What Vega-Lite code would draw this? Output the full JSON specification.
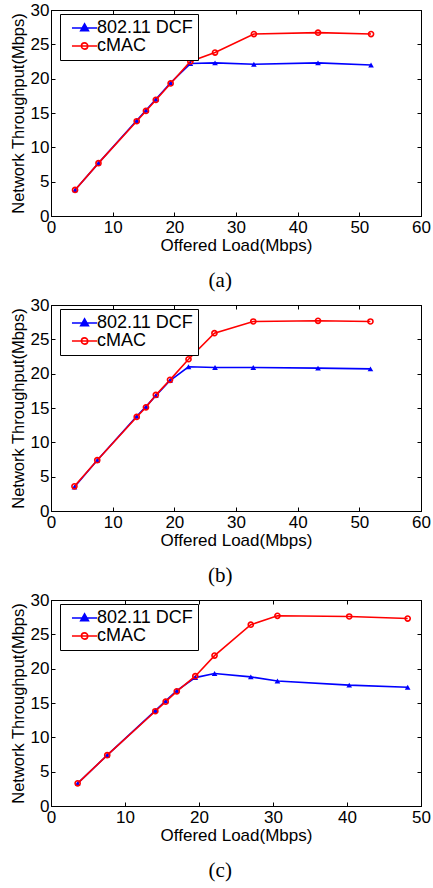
{
  "$schema": "https://vega.github.io/schema/vega-lite/v6.json",
  "padding": {"left": 9, "top": 0, "right": 2, "bottom": 0},
  "background": "white",
  "spacing": 3,
  "config": {
    "font": "Liberation Sans",
    "view": {"stroke": "black", "strokeWidth": 1},
    "axis": {
      "grid": false,
      "domainColor": "black",
      "tickColor": "black",
      "labelColor": "black",
      "titleColor": "black",
      "labelFontSize": 17,
      "titleFontSize": 17,
      "titleFontWeight": "normal",
      "labelFlush": false,
      "labelOverlap": false
    },
    "legend": {
      "title": null, "orient": "none", "legendX": 9, "legendY": 4, "strokeColor": "black", "fillColor": "white", "padding": 5,
      "labelFontSize": 18, "labelColor": "black", "symbolSize": 196, "symbolStrokeWidth": 1.6, "rowPadding": -1, "labelOffset": 14, "labelLimit": 0
    }
  },
  "datasets": {
    "a": [
      {"load": 3.9, "tput": 3.8, "scheme": "802.11 DCF"},
      {"load": 7.7, "tput": 7.7, "scheme": "802.11 DCF"},
      {"load": 13.9, "tput": 13.9, "scheme": "802.11 DCF"},
      {"load": 15.4, "tput": 15.4, "scheme": "802.11 DCF"},
      {"load": 17.0, "tput": 17.0, "scheme": "802.11 DCF"},
      {"load": 19.4, "tput": 19.4, "scheme": "802.11 DCF"},
      {"load": 22.6, "tput": 22.2, "scheme": "802.11 DCF"},
      {"load": 26.6, "tput": 22.3, "scheme": "802.11 DCF"},
      {"load": 32.9, "tput": 22.1, "scheme": "802.11 DCF"},
      {"load": 43.3, "tput": 22.3, "scheme": "802.11 DCF"},
      {"load": 51.9, "tput": 22.0, "scheme": "802.11 DCF"},
      {"load": 3.9, "tput": 3.8, "scheme": "cMAC"},
      {"load": 7.7, "tput": 7.7, "scheme": "cMAC"},
      {"load": 13.9, "tput": 13.8, "scheme": "cMAC"},
      {"load": 15.4, "tput": 15.3, "scheme": "cMAC"},
      {"load": 17.0, "tput": 16.9, "scheme": "cMAC"},
      {"load": 19.4, "tput": 19.3, "scheme": "cMAC"},
      {"load": 22.6, "tput": 22.5, "scheme": "cMAC"},
      {"load": 26.6, "tput": 23.8, "scheme": "cMAC"},
      {"load": 32.9, "tput": 26.5, "scheme": "cMAC"},
      {"load": 43.3, "tput": 26.7, "scheme": "cMAC"},
      {"load": 51.9, "tput": 26.5, "scheme": "cMAC"}
    ],
    "b": [
      {"load": 3.8, "tput": 3.5, "scheme": "802.11 DCF"},
      {"load": 7.5, "tput": 7.4, "scheme": "802.11 DCF"},
      {"load": 13.9, "tput": 13.8, "scheme": "802.11 DCF"},
      {"load": 15.4, "tput": 15.2, "scheme": "802.11 DCF"},
      {"load": 17.0, "tput": 16.8, "scheme": "802.11 DCF"},
      {"load": 19.3, "tput": 19.0, "scheme": "802.11 DCF"},
      {"load": 22.3, "tput": 21.0, "scheme": "802.11 DCF"},
      {"load": 26.6, "tput": 20.9, "scheme": "802.11 DCF"},
      {"load": 32.8, "tput": 20.9, "scheme": "802.11 DCF"},
      {"load": 43.3, "tput": 20.8, "scheme": "802.11 DCF"},
      {"load": 51.8, "tput": 20.7, "scheme": "802.11 DCF"},
      {"load": 3.8, "tput": 3.6, "scheme": "cMAC"},
      {"load": 7.5, "tput": 7.4, "scheme": "cMAC"},
      {"load": 13.9, "tput": 13.7, "scheme": "cMAC"},
      {"load": 15.4, "tput": 15.1, "scheme": "cMAC"},
      {"load": 17.0, "tput": 16.9, "scheme": "cMAC"},
      {"load": 19.3, "tput": 19.1, "scheme": "cMAC"},
      {"load": 22.3, "tput": 22.1, "scheme": "cMAC"},
      {"load": 26.5, "tput": 25.9, "scheme": "cMAC"},
      {"load": 32.8, "tput": 27.6, "scheme": "cMAC"},
      {"load": 43.3, "tput": 27.7, "scheme": "cMAC"},
      {"load": 51.8, "tput": 27.6, "scheme": "cMAC"}
    ],
    "c": [
      {"load": 3.6, "tput": 3.3, "scheme": "802.11 DCF"},
      {"load": 7.6, "tput": 7.4, "scheme": "802.11 DCF"},
      {"load": 14.1, "tput": 13.9, "scheme": "802.11 DCF"},
      {"load": 15.5, "tput": 15.3, "scheme": "802.11 DCF"},
      {"load": 17.0, "tput": 16.8, "scheme": "802.11 DCF"},
      {"load": 19.5, "tput": 18.7, "scheme": "802.11 DCF"},
      {"load": 22.1, "tput": 19.3, "scheme": "802.11 DCF"},
      {"load": 27.0, "tput": 18.8, "scheme": "802.11 DCF"},
      {"load": 30.6, "tput": 18.2, "scheme": "802.11 DCF"},
      {"load": 40.3, "tput": 17.6, "scheme": "802.11 DCF"},
      {"load": 48.2, "tput": 17.3, "scheme": "802.11 DCF"},
      {"load": 3.6, "tput": 3.3, "scheme": "cMAC"},
      {"load": 7.6, "tput": 7.4, "scheme": "cMAC"},
      {"load": 14.1, "tput": 13.8, "scheme": "cMAC"},
      {"load": 15.5, "tput": 15.2, "scheme": "cMAC"},
      {"load": 17.0, "tput": 16.7, "scheme": "cMAC"},
      {"load": 19.5, "tput": 18.9, "scheme": "cMAC"},
      {"load": 22.1, "tput": 21.9, "scheme": "cMAC"},
      {"load": 27.0, "tput": 26.4, "scheme": "cMAC"},
      {"load": 30.6, "tput": 27.7, "scheme": "cMAC"},
      {"load": 40.3, "tput": 27.6, "scheme": "cMAC"},
      {"load": 48.2, "tput": 27.3, "scheme": "cMAC"}
    ]
  },
  "resolve": {
    "scale": {"color": "independent"},
    "legend": {"color": "independent"}
  },
  "vconcat": [
    {
      "width": 370, "height": 206,
      "data": {"name": "a"},
      "title": {"text": "(a)", "orient": "bottom", "font": "Liberation Serif", "fontSize": 21, "fontWeight": "normal", "color": "black", "anchor": "middle", "frame": "bounds", "offset": 17},
      "resolve": {"axis": {"x": "independent", "y": "independent"}},
      "layer": [
        {
          "mark": {"type": "line", "strokeWidth": 1.6},
          "encoding": {
            "x": {"field": "load", "type": "quantitative", "scale": {"domain": [0, 60], "nice": false},
                  "axis": {"orient": "bottom", "values": [0, 10, 20, 30, 40, 50, 60], "tickSize": -4, "labelPadding": 7, "title": "Offered Load(Mbps)", "titlePadding": 2}},
            "y": {"field": "tput", "type": "quantitative", "scale": {"domain": [0, 30], "nice": false},
                  "axis": {"orient": "left", "values": [0, 5, 10, 15, 20, 25, 30], "tickSize": -4, "labelPadding": 6, "title": "Network Throughput(Mbps)", "titlePadding": 4, "titleFontSize": 16.5}},
            "color": {"field": "scheme", "type": "nominal", "scale": {"domain": ["802.11 DCF", "cMAC"], "range": ["#0000ff", "#ff0000"]},
                      "legend": {"encode": {"symbols": {"update": {"shape": {"signal": "datum.value === 'cMAC' ? 'M-0.29,0H3.31M1.06,0A0.45,0.45,0,1,0,1.96,0A0.45,0.45,0,1,0,1.06,0' : 'M-0.29,0H3.31M1.51,-0.6L2.06,0.4L0.96,0.4Z'"}, "fill": {"signal": "datum.value === 'cMAC' ? 'transparent' : '#0000ff'"}}}}}}
          }
        },
        {
          "transform": [{"filter": "datum.scheme === '802.11 DCF'"}],
          "mark": {"type": "point", "shape": "triangle-up", "filled": true, "color": "#0000ff", "size": 32, "opacity": 1},
          "encoding": {
            "x": {"field": "load", "type": "quantitative", "axis": {"orient": "top", "values": [0, 10, 20, 30, 40, 50, 60], "tickSize": -4, "labels": false, "title": null}},
            "y": {"field": "tput", "type": "quantitative", "axis": {"orient": "right", "values": [0, 5, 10, 15, 20, 25, 30], "tickSize": -4, "labels": false, "title": null}}
          }
        },
        {
          "transform": [{"filter": "datum.scheme === 'cMAC'"}],
          "mark": {"type": "point", "shape": "circle", "filled": false, "color": "#ff0000", "strokeWidth": 1.6, "size": 26, "opacity": 1},
          "encoding": {
            "x": {"field": "load", "type": "quantitative", "axis": null},
            "y": {"field": "tput", "type": "quantitative", "axis": null}
          }
        }
      ]
    },
    {
      "width": 370, "height": 206,
      "data": {"name": "b"},
      "title": {"text": "(b)", "orient": "bottom", "font": "Liberation Serif", "fontSize": 21, "fontWeight": "normal", "color": "black", "anchor": "middle", "frame": "bounds", "offset": 17},
      "resolve": {"axis": {"x": "independent", "y": "independent"}},
      "layer": [
        {
          "mark": {"type": "line", "strokeWidth": 1.6},
          "encoding": {
            "x": {"field": "load", "type": "quantitative", "scale": {"domain": [0, 60], "nice": false},
                  "axis": {"orient": "bottom", "values": [0, 10, 20, 30, 40, 50, 60], "tickSize": -4, "labelPadding": 7, "title": "Offered Load(Mbps)", "titlePadding": 2}},
            "y": {"field": "tput", "type": "quantitative", "scale": {"domain": [0, 30], "nice": false},
                  "axis": {"orient": "left", "values": [0, 5, 10, 15, 20, 25, 30], "tickSize": -4, "labelPadding": 6, "title": "Network Throughput(Mbps)", "titlePadding": 4, "titleFontSize": 16.5}},
            "color": {"field": "scheme", "type": "nominal", "scale": {"domain": ["802.11 DCF", "cMAC"], "range": ["#0000ff", "#ff0000"]},
                      "legend": {"encode": {"symbols": {"update": {"shape": {"signal": "datum.value === 'cMAC' ? 'M-0.29,0H3.31M1.06,0A0.45,0.45,0,1,0,1.96,0A0.45,0.45,0,1,0,1.06,0' : 'M-0.29,0H3.31M1.51,-0.6L2.06,0.4L0.96,0.4Z'"}, "fill": {"signal": "datum.value === 'cMAC' ? 'transparent' : '#0000ff'"}}}}}}
          }
        },
        {
          "transform": [{"filter": "datum.scheme === '802.11 DCF'"}],
          "mark": {"type": "point", "shape": "triangle-up", "filled": true, "color": "#0000ff", "size": 32, "opacity": 1},
          "encoding": {
            "x": {"field": "load", "type": "quantitative", "axis": {"orient": "top", "values": [0, 10, 20, 30, 40, 50, 60], "tickSize": -4, "labels": false, "title": null}},
            "y": {"field": "tput", "type": "quantitative", "axis": {"orient": "right", "values": [0, 5, 10, 15, 20, 25, 30], "tickSize": -4, "labels": false, "title": null}}
          }
        },
        {
          "transform": [{"filter": "datum.scheme === 'cMAC'"}],
          "mark": {"type": "point", "shape": "circle", "filled": false, "color": "#ff0000", "strokeWidth": 1.6, "size": 26, "opacity": 1},
          "encoding": {
            "x": {"field": "load", "type": "quantitative", "axis": null},
            "y": {"field": "tput", "type": "quantitative", "axis": null}
          }
        }
      ]
    },
    {
      "width": 370, "height": 206,
      "data": {"name": "c"},
      "title": {"text": "(c)", "orient": "bottom", "font": "Liberation Serif", "fontSize": 21, "fontWeight": "normal", "color": "black", "anchor": "middle", "frame": "bounds", "offset": 17},
      "resolve": {"axis": {"x": "independent", "y": "independent"}},
      "layer": [
        {
          "mark": {"type": "line", "strokeWidth": 1.6},
          "encoding": {
            "x": {"field": "load", "type": "quantitative", "scale": {"domain": [0, 50], "nice": false},
                  "axis": {"orient": "bottom", "values": [0, 10, 20, 30, 40, 50], "tickSize": -4, "labelPadding": 7, "title": "Offered Load(Mbps)", "titlePadding": 2}},
            "y": {"field": "tput", "type": "quantitative", "scale": {"domain": [0, 30], "nice": false},
                  "axis": {"orient": "left", "values": [0, 5, 10, 15, 20, 25, 30], "tickSize": -4, "labelPadding": 6, "title": "Network Throughput(Mbps)", "titlePadding": 4, "titleFontSize": 16.5}},
            "color": {"field": "scheme", "type": "nominal", "scale": {"domain": ["802.11 DCF", "cMAC"], "range": ["#0000ff", "#ff0000"]},
                      "legend": {"encode": {"symbols": {"update": {"shape": {"signal": "datum.value === 'cMAC' ? 'M-0.29,0H3.31M1.06,0A0.45,0.45,0,1,0,1.96,0A0.45,0.45,0,1,0,1.06,0' : 'M-0.29,0H3.31M1.51,-0.6L2.06,0.4L0.96,0.4Z'"}, "fill": {"signal": "datum.value === 'cMAC' ? 'transparent' : '#0000ff'"}}}}}}
          }
        },
        {
          "transform": [{"filter": "datum.scheme === '802.11 DCF'"}],
          "mark": {"type": "point", "shape": "triangle-up", "filled": true, "color": "#0000ff", "size": 32, "opacity": 1},
          "encoding": {
            "x": {"field": "load", "type": "quantitative", "axis": {"orient": "top", "values": [0, 10, 20, 30, 40, 50], "tickSize": -4, "labels": false, "title": null}},
            "y": {"field": "tput", "type": "quantitative", "axis": {"orient": "right", "values": [0, 5, 10, 15, 20, 25, 30], "tickSize": -4, "labels": false, "title": null}}
          }
        },
        {
          "transform": [{"filter": "datum.scheme === 'cMAC'"}],
          "mark": {"type": "point", "shape": "circle", "filled": false, "color": "#ff0000", "strokeWidth": 1.6, "size": 26, "opacity": 1},
          "encoding": {
            "x": {"field": "load", "type": "quantitative", "axis": null},
            "y": {"field": "tput", "type": "quantitative", "axis": null}
          }
        }
      ]
    }
  ]
}
